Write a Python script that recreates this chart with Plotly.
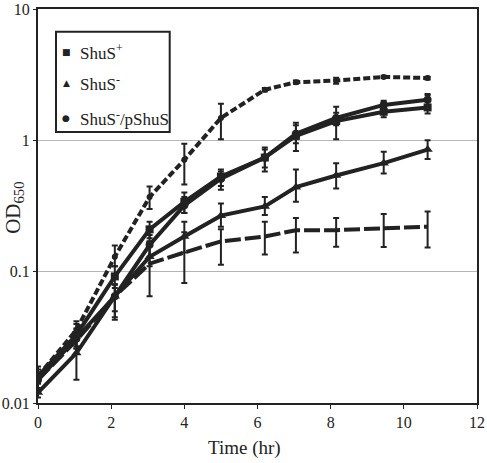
import plotly.graph_objects as go

# ---------------- data ----------------
time_hr = [0, 1.05, 2.1, 3.05, 4.0, 5.0, 6.2, 7.05, 8.15, 9.45, 10.65]

# top dashed curve
dash_top = [0.016, 0.036, 0.13, 0.37, 0.71, 1.48, 2.43, 2.77, 2.85, 3.04, 2.98]
dash_top_hi = [0.018, 0.042, 0.158, 0.445, 0.94, 1.9, 2.5, 2.85, 3.0, 3.1, 3.05]
dash_top_lo = [0.014, 0.031, 0.11, 0.30, 0.46, 1.02, 2.35, 2.7, 2.7, 3.0, 2.9]

# solid, squares (ShuS+)
shus_plus = [0.016, 0.033, 0.092, 0.21, 0.34, 0.53, 0.74, 1.08, 1.40, 1.65, 1.78]
shus_plus_hi = [0.019, 0.040, 0.11, 0.24, 0.40, 0.60, 0.88, 1.36, 1.8, 1.95, 2.2]
shus_plus_lo = [0.013, 0.027, 0.075, 0.18, 0.28, 0.42, 0.58, 0.83, 1.02, 1.5, 1.6]

# solid, circles (ShuS-/pShuS)
shus_comp = [0.015, 0.031, 0.065, 0.16, 0.32, 0.51, 0.74, 1.12, 1.48, 1.86, 2.04]
shus_comp_hi = [0.017, 0.037, 0.08, 0.19, 0.37, 0.58, 0.85, 1.30, 1.62, 2.0, 2.25]
shus_comp_lo = [0.013, 0.026, 0.043, 0.13, 0.28, 0.45, 0.62, 0.95, 1.30, 1.70, 1.85]

# solid, triangles (ShuS-)
shus_minus = [0.012, 0.024, 0.065, 0.13, 0.185, 0.267, 0.314, 0.44, 0.54, 0.67, 0.85]
shus_minus_hi = [0.013, 0.030, 0.08, 0.17, 0.24, 0.33, 0.37, 0.60, 0.67, 0.82, 1.0]
shus_minus_lo = [0.011, 0.015, 0.05, 0.11, 0.14, 0.22, 0.27, 0.34, 0.43, 0.56, 0.72]

# bottom dashed curve
dash_bot = [0.015, 0.030, 0.065, 0.115, 0.14, 0.17, 0.185, 0.207, 0.207, 0.215, 0.22]
dash_bot_hi = [0.017, 0.034, 0.08, 0.17, 0.20, 0.21, 0.24, 0.256, 0.256, 0.275, 0.287]
dash_bot_lo = [0.013, 0.026, 0.045, 0.065, 0.082, 0.113, 0.135, 0.14, 0.155, 0.154, 0.153]

y_tickvals = [0.01, 0.1, 1, 10]
y_ticktext = ["0.01", "0.1", "1", "10"]
x_tickvals = [0, 2, 4, 6, 8, 10, 12]

legend_names = ["ShuS<sup>+</sup>", "ShuS<sup>-</sup>", "ShuS<sup>-</sup>/pShuS"]
legend_glyphs = ["■", "▲", "●"]

INK = "#222222"
FONT = "Liberation Serif"

fig = go.Figure()


def add_series(y, hi, lo, dash, symbol, msize):
    fig.add_trace(go.Scatter(
        x=time_hr, y=y, mode="lines+markers", showlegend=False,
        line=dict(color=INK, width=4, dash=dash),
        marker=dict(symbol=symbol, size=msize, color=INK),
        error_y=dict(type="data", symmetric=False,
                     array=[h - v for h, v in zip(hi, y)],
                     arrayminus=[v - l for v, l in zip(y, lo)],
                     color=INK, thickness=2, width=3),
    ))


add_series(dash_bot, dash_bot_hi, dash_bot_lo, "16px,4px", "line-ew", 6)
add_series(shus_minus, shus_minus_hi, shus_minus_lo, "solid", "triangle-up", 9)
add_series(shus_comp, shus_comp_hi, shus_comp_lo, "solid", "circle", 8)
add_series(shus_plus, shus_plus_hi, shus_plus_lo, "solid", "square", 8)
add_series(dash_top, dash_top_hi, dash_top_lo, "7px,3px", "circle", 6)

# legend box (drawn as a shape + text annotations)
legend_rows_y = [0.891, 0.812, 0.724]
annotations = []
for name, glyph, yy in zip(legend_names, legend_glyphs, legend_rows_y):
    annotations.append(dict(text=glyph, xref="paper", yref="paper", x=0.0638, y=yy,
                            xanchor="center", yanchor="middle", showarrow=False,
                            font=dict(family="DejaVu Sans", size=9, color=INK)))
    annotations.append(dict(text=name, xref="paper", yref="paper", x=0.091, y=yy,
                            xanchor="left", yanchor="middle", showarrow=False,
                            font=dict(family=FONT, size=17, color=INK)))

annotations += [
    dict(text="Time (hr)", xref="paper", yref="paper", x=0.471, y=-0.113,
         xanchor="center", yanchor="middle",
         showarrow=False, font=dict(family=FONT, size=19, color=INK)),
    dict(text="OD<sub>650</sub>", xref="paper", yref="paper", x=-0.055, y=0.495,
         xanchor="center", yanchor="middle",
         textangle=-90, showarrow=False, font=dict(family=FONT, size=21, color=INK)),
]

fig.update_layout(
    width=487, height=463,
    margin=dict(l=38, r=10, t=9, b=60, autoexpand=False),
    paper_bgcolor="white", plot_bgcolor="white",
    font=dict(family=FONT, color=INK, size=16),
    showlegend=False,
    xaxis=dict(range=[0, 12], tickvals=x_tickvals, showgrid=False, zeroline=False,
               showline=True, linecolor=INK, linewidth=2, mirror=True,
               ticks="outside", ticklen=4, tickcolor=INK, automargin=False,
               tickfont=dict(family=FONT, size=16, color=INK)),
    yaxis=dict(type="log", range=[-2, 1], tickvals=y_tickvals, ticktext=y_ticktext,
               showgrid=True, gridcolor="#b5b5b5", gridwidth=1, zeroline=False,
               showline=True, linecolor=INK, linewidth=2, mirror=True,
               ticks="outside", ticklen=3, tickcolor=INK, automargin=False,
               tickfont=dict(family=FONT, size=16, color=INK)),
    shapes=[dict(type="rect", xref="paper", yref="paper",
                 x0=0.041, x1=0.300, y0=0.688, y1=0.942,
                 line=dict(color=INK, width=2), fillcolor="white", layer="above")],
    annotations=annotations,
)

fig.write_html("out.html", config={"displayModeBar": False},
               post_script="document.body.style.margin='0';")
